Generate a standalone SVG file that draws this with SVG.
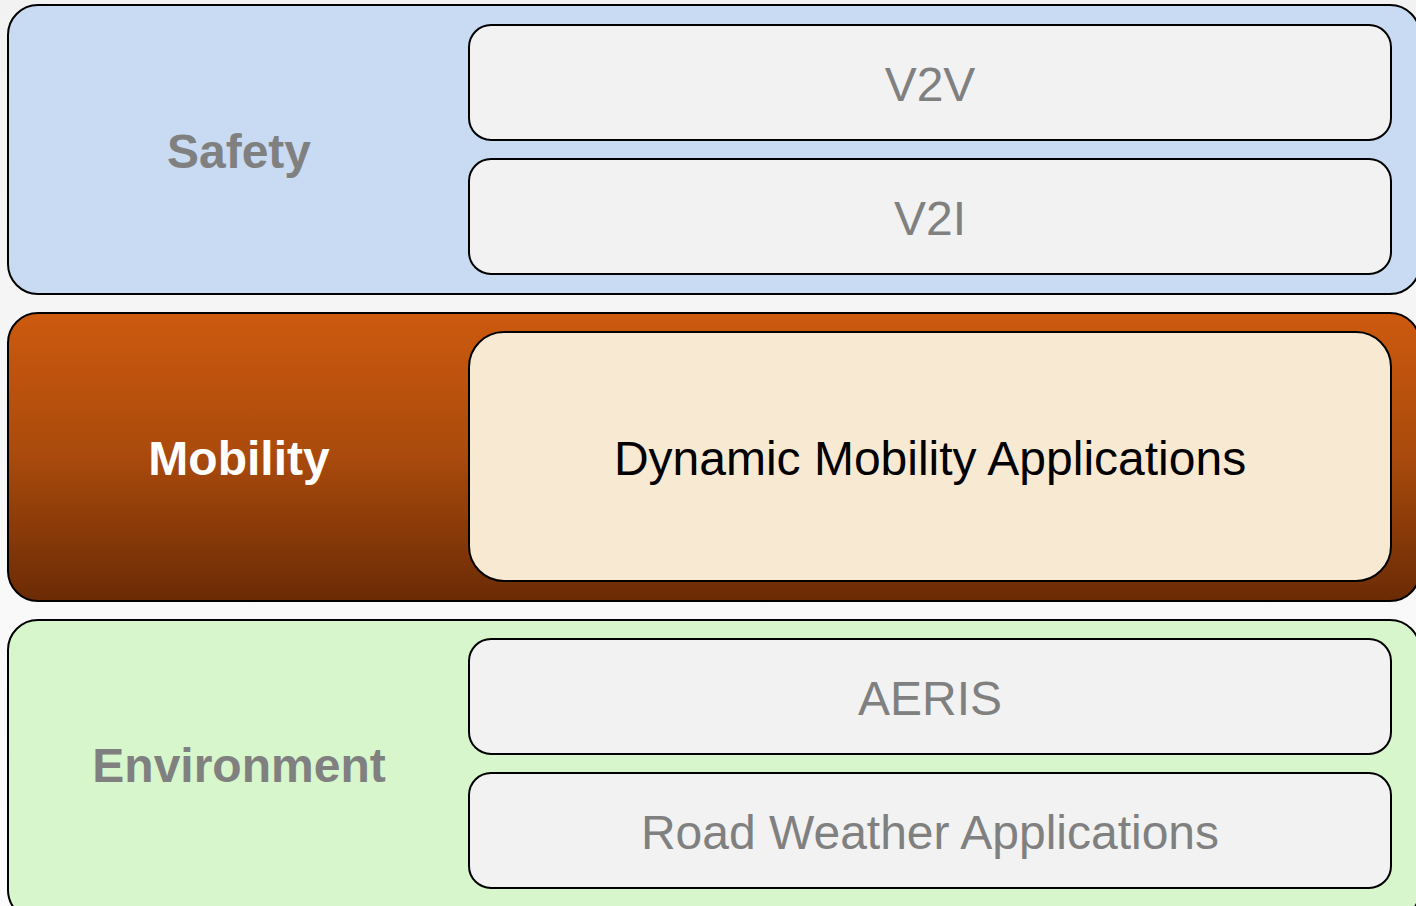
<svg xmlns="http://www.w3.org/2000/svg" width="1416" height="906" viewBox="0 0 1416 906">
<defs>
<linearGradient id="bg" x1="0" y1="0" x2="0" y2="1"><stop offset="0" stop-color="#f2f2f2"/><stop offset="1" stop-color="#fcfcfc"/></linearGradient>
<linearGradient id="mob" x1="0" y1="0" x2="0" y2="1"><stop offset="0" stop-color="#cd5a0f"/><stop offset="0.5" stop-color="#a94a0c"/><stop offset="1" stop-color="#6b2b05"/></linearGradient>
<style>
.band{stroke:#000;stroke-width:2}
.inner{fill:#f2f2f2;stroke:#000;stroke-width:2}
.lbl{font-family:"Liberation Sans",Arial,sans-serif;font-weight:bold;font-size:48px;text-anchor:middle}
.txt{font-family:"Liberation Sans",Arial,sans-serif;font-size:48px;text-anchor:middle;fill:#808080}
</style>
</defs>
<rect width="1416" height="906" fill="url(#bg)"/>
<g id="safety">
<rect class="band" x="8" y="5" width="1412" height="289" rx="30" fill="#c8dbf2"/>
<text class="lbl" x="239" y="168" fill="#808080">Safety</text>
</g>
<g id="v2v"><rect class="inner" x="469" y="25" width="922" height="115" rx="22"/><text class="txt" x="930" y="101">V2V</text></g>
<g id="v2i"><rect class="inner" x="469" y="159" width="922" height="115" rx="22"/><text class="txt" x="930" y="235">V2I</text></g>
<g id="mobility">
<rect class="band" x="8" y="313" width="1412" height="288" rx="30" fill="url(#mob)"/>
<text class="lbl" x="239" y="475" fill="#ffffff">Mobility</text>
</g>
<g id="dma"><rect x="469" y="332" width="922" height="249" rx="35" fill="#f8e9d2" stroke="#000" stroke-width="2"/><text class="txt" x="930" y="475" style="fill:#000">Dynamic Mobility Applications</text></g>
<g id="environment">
<rect class="band" x="8" y="620" width="1412" height="300" rx="30" fill="#d8f6cb"/>
<text class="lbl" x="239" y="782" fill="#808080">Environment</text>
</g>
<g id="aeris"><rect class="inner" x="469" y="639" width="922" height="115" rx="22"/><text class="txt" x="930" y="715">AERIS</text></g>
<g id="rwa"><rect class="inner" x="469" y="773" width="922" height="115" rx="22"/><text class="txt" x="930" y="849">Road Weather Applications</text></g>
<g id="connectors"/>
</svg>
